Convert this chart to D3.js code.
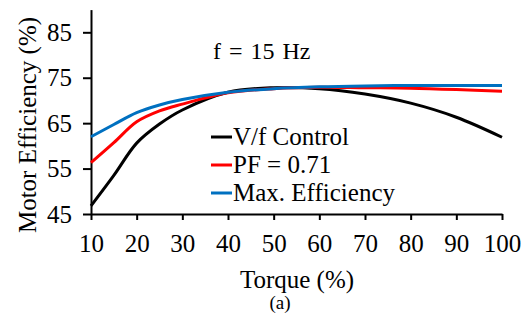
<!DOCTYPE html>
<html lang="en">
<head>
    <meta charset="UTF-8">
    <title>Motor Efficiency</title>
    <script src="https://cdn.jsdelivr.net/npm/d3@7"></script>
    <style>
        body { margin: 0; background: #fff; }
        .axis path, .axis line { stroke: #000; stroke-width: 2px; }
        .line { fill: none; stroke-width: 3px; }
    </style>
</head>
<body>
    <div id="charts"></div>
    <script>
        // data
        const torque = [10, 15, 20, 25, 30, 40, 50, 60, 70, 80, 90, 100];
        const vfControl = [46.8, 53.5, 60.6, 64.8, 67.9, 71.8, 72.8, 72.6, 71.4, 69.4, 66.3, 61.9];
        const pf071 = [56.3, 60.7, 65.3, 67.7, 69.2, 71.7, 72.6, 72.9, 72.8, 72.7, 72.4, 72.0];
        const maxEff = [62.0, 64.7, 67.3, 69.0, 70.2, 71.8, 72.6, 73.0, 73.2, 73.3, 73.3, 73.3];
        const seriesNames = ["V/f Control", "PF = 0.71", "Max. Efficiency"];
        const seriesColors = ["#000000", "#ff0000", "#0070c0"];
        const xTicks = [10, 20, 30, 40, 50, 60, 70, 80, 90, 100];
        const yTicks = [45, 55, 65, 75, 85];

        const width = 529, height = 320;
        const font = "Liberation Serif";
        const x = d3.scaleLinear().domain([10, 100]).range([91, 502]);
        const y = d3.scaleLinear().domain([45, 90]).range([214, 9.6]);

        const svg = d3.select("#charts").append("svg")
            .attr("width", width)
            .attr("height", height);

        // axes
        svg.append("g").attr("class", "axis")
            .attr("transform", "translate(0,214)")
            .call(d3.axisBottom(x).tickValues(xTicks).tickSize(6).tickSizeOuter(0).tickPadding(14))
            .attr("font-family", font)
            .attr("font-size", 25);

        svg.append("g").attr("class", "axis")
            .attr("transform", "translate(91,0)")
            .call(d3.axisLeft(y).tickValues(yTicks).tickSize(8).tickSizeOuter(0).tickPadding(11))
            .attr("font-family", font)
            .attr("font-size", 25);

        // lines
        const valueLine = d3.line()
            .x(d => x(d[0]))
            .y(d => y(d[1]))
            .curve(d3.curveCatmullRom.alpha(0.5));

        const allSeries = [vfControl, pf071, maxEff];
        allSeries.forEach(function(vals, i) {
            svg.append("path")
                .datum(torque.map((t, j) => [t, vals[j]]))
                .attr("class", "line")
                .attr("stroke", seriesColors[i])
                .attr("d", valueLine);
        });

        // legend
        seriesNames.forEach(function(name, i) {
            const by = 145 + i * 28;
            svg.append("line")
                .attr("x1", 211).attr("x2", 232)
                .attr("y1", by - 8).attr("y2", by - 8)
                .attr("stroke", seriesColors[i])
                .attr("stroke-width", 3);
            svg.append("text")
                .attr("x", 233).attr("y", by)
                .attr("font-family", font)
                .attr("font-size", 25)
                .text(name);
        });

        // labels
        svg.append("text")
            .attr("x", 213).attr("y", 59)
            .attr("font-family", font)
            .attr("font-size", 24)
            .attr("word-spacing", 2)
            .text("f = 15 Hz");

        svg.append("text")
            .attr("x", 297).attr("y", 288)
            .attr("text-anchor", "middle")
            .attr("font-family", font)
            .attr("font-size", 25)
            .text("Torque (%)");

        svg.append("text")
            .attr("x", 280).attr("y", 309)
            .attr("text-anchor", "middle")
            .attr("font-family", font)
            .attr("font-size", 19)
            .text("(a)");

        svg.append("text")
            .attr("transform", "translate(36,125) rotate(-90)")
            .attr("text-anchor", "middle")
            .attr("font-family", font)
            .attr("font-size", 25)
            .text("Motor Efficiency (%)");
    </script>
</body>
</html>
